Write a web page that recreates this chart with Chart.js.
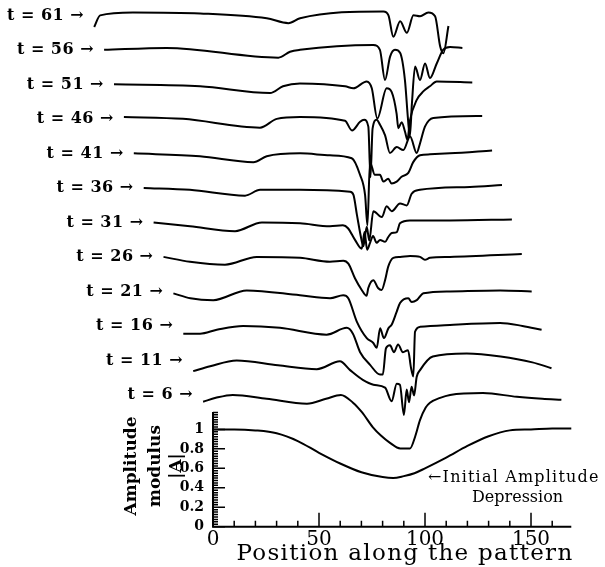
<!DOCTYPE html>
<html lang="en">
<head>
  <meta charset="UTF-8" />
  <title>Amplitude modulus along the pattern</title>
  <script src="https://cdn.jsdelivr.net/npm/chart.js"></script>
  <style>
    body {
      margin: 0;
      padding: 0;
      background: #fff;
    }

    /* fixed size box, same as the window */
    .chart-container {
      width: 605px;
      height: 567px;
      position: relative;
    }
  </style>
</head>
<body>
  <div class="chart-container">
    <canvas id="waterfallChart"></canvas>
  </div>

  <script>
    // Time of each stacked profile, bottom to top
    const times = [1, 6, 11, 16, 21, 26, 31, 36, 41, 46, 51, 56, 61];

    // Each profile is a list of [position, |A|]
    const profileT1 = [[0,1.0],[10,1.0],[20,0.99],[30,0.96],[40,0.88],[50,0.76],[60,0.65],[70,0.56],[80,0.51],[85,0.5],[90,0.52],[95,0.55],[100,0.6],[110,0.71],[120,0.83],[130,0.93],[140,0.99],[150,1.0],[160,1.01],[169,1.01]];
    const profileT6 = [[0,0.93],[6,0.97],[14,1.0],[30,0.96],[49,0.91],[58,0.96],[65,1.0],[70.7,0.92],[75,0.82],[80,0.67],[84,0.58],[88,0.51],[93,0.45],[97.6,0.45],[100,0.57],[102.3,0.74],[105,0.87],[107,0.92],[111.8,0.97],[116.5,1.0],[132,1.02],[148,0.98],[160,0.96],[169,0.95]];
    const profileT11 = [[0,0.89],[8,0.94],[20.5,1.0],[40,0.95],[58.3,0.91],[69.2,0.99],[74,0.9],[80,0.8],[85,0.75],[90.5,0.72],[93.6,0.58],[96,0.76],[97.5,0.75],[99.4,0.44],[100.7,0.7],[101.8,0.57],[103,0.73],[104.2,0.64],[105.4,0.83],[107,0.9],[113,1.04],[129,1.07],[145,1.04],[160,0.98],[169,0.92]];
    const profileT16 = [[0,0.92],[7.9,0.92],[15.8,0.96],[28.2,1.0],[45.6,0.98],[67.6,0.91],[77.1,0.98],[80,0.92],[83.4,0.73],[88.1,0.6],[92.8,0.5],[94.1,0.5],[95.6,0.77],[97.5,0.8],[99.4,0.73],[101.3,0.81],[103.6,0.73],[106,0.75],[107.4,0.57],[108.5,0.48],[109.3,0.94],[111.7,0.99],[125.8,1.01],[149.4,1.03],[160,1.0],[169,0.96]];
    const profileT21 = [[0,0.98],[8,0.93],[18.8,0.91],[34.6,1.01],[59.7,0.96],[73.9,0.93],[80.1,0.96],[82.5,0.93],[86.5,0.69],[91.2,0.52],[94.3,0.47],[95.9,0.42],[97.5,0.62],[99.3,0.52],[101.4,0.62],[103,0.66],[105.3,0.79],[106.9,0.88],[110.8,0.93],[112.4,0.89],[114.8,0.91],[117.9,0.98],[130.5,1.0],[154.1,1.01],[169,1.0]];
    const profileT26 = [[0,1.0],[12.5,0.95],[29,0.92],[44,1.0],[64.4,0.99],[78.5,0.95],[84.8,0.96],[87.2,0.93],[90.3,0.78],[93.5,0.66],[95.8,0.6],[96.6,0.68],[99,0.76],[101.2,0.68],[102.9,0.66],[104.5,0.76],[106,0.9],[108.4,0.99],[111.6,1.0],[116.3,1.01],[121,1.0],[123.3,0.97],[125.7,0.99],[135.1,1.0],[169,1.03]];
    const profileT31 = [[0,1.0],[17.2,0.96],[38.4,0.91],[51.1,1.0],[69.1,0.99],[83.2,0.96],[89.3,0.97],[91.7,0.94],[95,0.82],[98.2,0.73],[99.5,0.9],[100.7,0.72],[102.1,0.79],[103.5,0.86],[105.2,0.79],[106.8,0.82],[109.2,0.8],[110.7,0.85],[112.3,0.89],[114.7,0.9],[116.2,0.99],[120.9,1.02],[139.8,1.02],[169,1.03]];
    const profileT36 = [[0,1.0],[21.8,0.98],[47.8,0.92],[54.9,0.98],[73.7,0.98],[97.3,0.96],[98.9,0.93],[100.6,0.72],[102.8,0.46],[103.6,0.4],[105.2,0.6],[106.4,0.46],[108.3,0.76],[112.3,0.7],[114.6,0.81],[117,0.76],[120.9,0.84],[124.1,0.82],[126.4,0.94],[130.3,0.98],[153.9,1.01],[169,1.03]];
    const profileT41 = [[0,1.0],[31.2,0.97],[56.4,0.91],[62.7,0.97],[78.4,1.0],[92.5,0.98],[102.8,0.95],[106.7,0.78],[109.1,0.57],[110.2,0.26],[111.4,0.91],[113.7,0.78],[116.1,0.78],[117.7,0.71],[120,0.74],[121.6,0.69],[124,0.71],[126.3,0.76],[129.5,0.8],[131.8,0.91],[135,0.98],[139.7,0.99],[149.1,1.0],[169,1.03]];
    const profileT46 = [[0,1.02],[27.9,1.0],[64.2,0.91],[72.1,1.0],[83.1,1.02],[104.3,0.98],[107.6,0.88],[111.4,0.97],[113.3,0.99],[115.3,0.92],[116.3,0.4],[117.3,0.9],[119.2,0.99],[120.8,0.94],[123.2,0.83],[125.5,0.65],[128.7,0.71],[131.8,0.68],[135,0.82],[138.1,0.65],[139.7,0.75],[142,0.92],[145.9,1.01],[169,1.03]];
    const profileT51 = [[0,1.0],[40.6,0.98],[73.6,0.91],[79.7,0.98],[87.7,1.01],[109,0.98],[112.9,0.96],[119.2,1.03],[121.6,0.96],[124.2,0.65],[128.6,0.96],[131,0.92],[133.3,0.7],[134.1,0.55],[135.7,0.61],[137.3,0.51],[138.4,0.43],[139.6,0.63],[142.8,0.84],[146,0.93],[149,0.98],[152.2,1.03],[169,1.02]];
    const profileT56 = [[0,1.0],[29.5,1.02],[82.2,0.92],[87.7,0.98],[92.4,1.0],[127,1.05],[130.1,1.0],[132.5,0.69],[134.9,0.93],[137.2,1.0],[139.6,0.97],[141.9,0.69],[143.3,0.3],[144.2,0.11],[145.2,0.45],[146.7,0.83],[149,0.69],[151.4,0.86],[153.7,0.71],[156.9,0.86],[159.9,1.0],[163.2,1.03],[169,1.02]];
    const profileT61 = [[0,0.88],[2.8,1.0],[18.3,1.03],[50,1.02],[81.4,0.97],[91.6,0.92],[97.1,0.97],[136.4,1.04],[138.8,1.0],[141.1,0.78],[144.3,0.94],[147.5,0.82],[150.6,1.0],[153.7,0.99],[157.6,1.03],[160.8,0.99],[163.2,0.68],[164.7,0.61],[167.1,0.89]];

    const profiles = [profileT1, profileT6, profileT11, profileT16, profileT21, profileT26, profileT31,
                      profileT36, profileT41, profileT46, profileT51, profileT56, profileT61];

    // Axis ticks
    const xTicks = [0, 50, 100, 150];
    const xMinorTicks = [10, 20, 30, 40, 60, 70, 80, 90, 110, 120, 130, 140, 160];
    const yTicks = [0, 0.2, 0.4, 0.6, 0.8, 1];

    // Waterfall: each later profile is moved left and up by this much
    const stepShiftX = -4.67;
    const stepShiftY = 0.3546;

    const xAxisEnd = 169;
    const yAxisTop = 1.18;

    const datasets = profiles.map((prof, k) => ({
      label: 't = ' + times[k],
      data: prof.map(([pos, amp]) => ({ x: pos + k * stepShiftX, y: amp + k * stepShiftY })),
      borderColor: '#000',
      borderWidth: 2,
      pointRadius: 0,
      fill: false,
      cubicInterpolationMode: 'monotone'
    }));

    // Draws the short axes, ticks, and all the text
    const frameAndText = {
      id: 'frameAndText',
      afterDraw(chart) {
        const ctx = chart.ctx;
        const xs = chart.scales.x;
        const ys = chart.scales.y;
        const px = v => xs.getPixelForValue(v);
        const py = v => ys.getPixelForValue(v);

        ctx.save();
        ctx.strokeStyle = '#000';
        ctx.fillStyle = '#000';

        // axis lines
        ctx.lineWidth = 2;
        ctx.beginPath();
        ctx.moveTo(px(0), py(yAxisTop));
        ctx.lineTo(px(0), py(0));
        ctx.lineTo(px(xAxisEnd), py(0));
        ctx.stroke();

        // x ticks point up into the plot
        ctx.lineWidth = 1.5;
        ctx.beginPath();
        xMinorTicks.forEach(v => {
          ctx.moveTo(px(v), py(0));
          ctx.lineTo(px(v), py(0) - 6);
        });
        xTicks.forEach(v => {
          ctx.moveTo(px(v), py(0));
          ctx.lineTo(px(v), py(0) - 14);
        });
        ctx.stroke();

        // y ticks point right; dense minor comb
        ctx.beginPath();
        for (let i = 1; i * 0.025 <= yAxisTop; i++) {
          const v = i * 0.025;
          ctx.moveTo(px(0), py(v));
          ctx.lineTo(px(0) + 5, py(v));
        }
        yTicks.forEach(v => {
          ctx.moveTo(px(0), py(v));
          ctx.lineTo(px(0) + 12, py(v));
        });
        ctx.stroke();

        // x tick labels
        ctx.font = '20px "DejaVu Serif"';
        ctx.textAlign = 'center';
        ctx.textBaseline = 'middle';
        xTicks.forEach(v => ctx.fillText(String(v), px(v), py(0) + 13));

        // y tick labels
        ctx.font = 'bold 14px "DejaVu Serif"';
        ctx.textAlign = 'right';
        yTicks.forEach(v => ctx.fillText(String(v), px(0) - 9, py(v)));

        // x title
        ctx.font = '23px "DejaVu Serif"';
        ctx.letterSpacing = '1.3px';
        ctx.textAlign = 'center';
        ctx.textBaseline = 'alphabetic';
        ctx.fillText('Position along the pattern', 405, 560);
        ctx.letterSpacing = '0px';

        // y title, three rotated lines
        ctx.font = 'bold 17px "DejaVu Serif"';
        ctx.textBaseline = 'middle';
        [['Amplitude', 132], ['modulus', 156], ['|A|', 177]].forEach(([txt, cx]) => {
          ctx.save();
          ctx.translate(cx, 466);
          ctx.rotate(-Math.PI / 2);
          ctx.fillText(txt, 0, 0);
          ctx.restore();
        });

        // time labels at the left end of each profile
        ctx.font = 'bold 16px "DejaVu Serif"';
        ctx.letterSpacing = '0.5px';
        ctx.textAlign = 'right';
        times.forEach((t, k) => {
          if (k === 0) return;
          ctx.fillText('t = ' + t + ' \u2192', px(k * stepShiftX) - 10, py(1 + k * stepShiftY));
        });

        // note on the initial profile
        ctx.font = '16px "DejaVu Serif"';
        ctx.letterSpacing = '1.2px';
        ctx.textAlign = 'left';
        ctx.fillText('\u2190Initial Amplitude', 428, 478);
        ctx.letterSpacing = '0px';
        ctx.fillText('Depression', 472, 498);

        ctx.restore();
      }
    };

    const ctx = document.getElementById('waterfallChart').getContext('2d');
    const waterfallChart = new Chart(ctx, {
      type: 'line',
      data: { datasets },
      options: {
        responsive: true,
        maintainAspectRatio: false,
        animation: false,
        layout: { padding: 0 },
        plugins: {
          legend: { display: false },
          tooltip: { enabled: false }
        },
        scales: {
          x: { type: 'linear', display: false, min: -100.47, max: 184.9 },
          y: { type: 'linear', display: false, min: -0.414, max: 5.413 }
        }
      },
      plugins: [frameAndText]
    });
  </script>
</body>
</html>
